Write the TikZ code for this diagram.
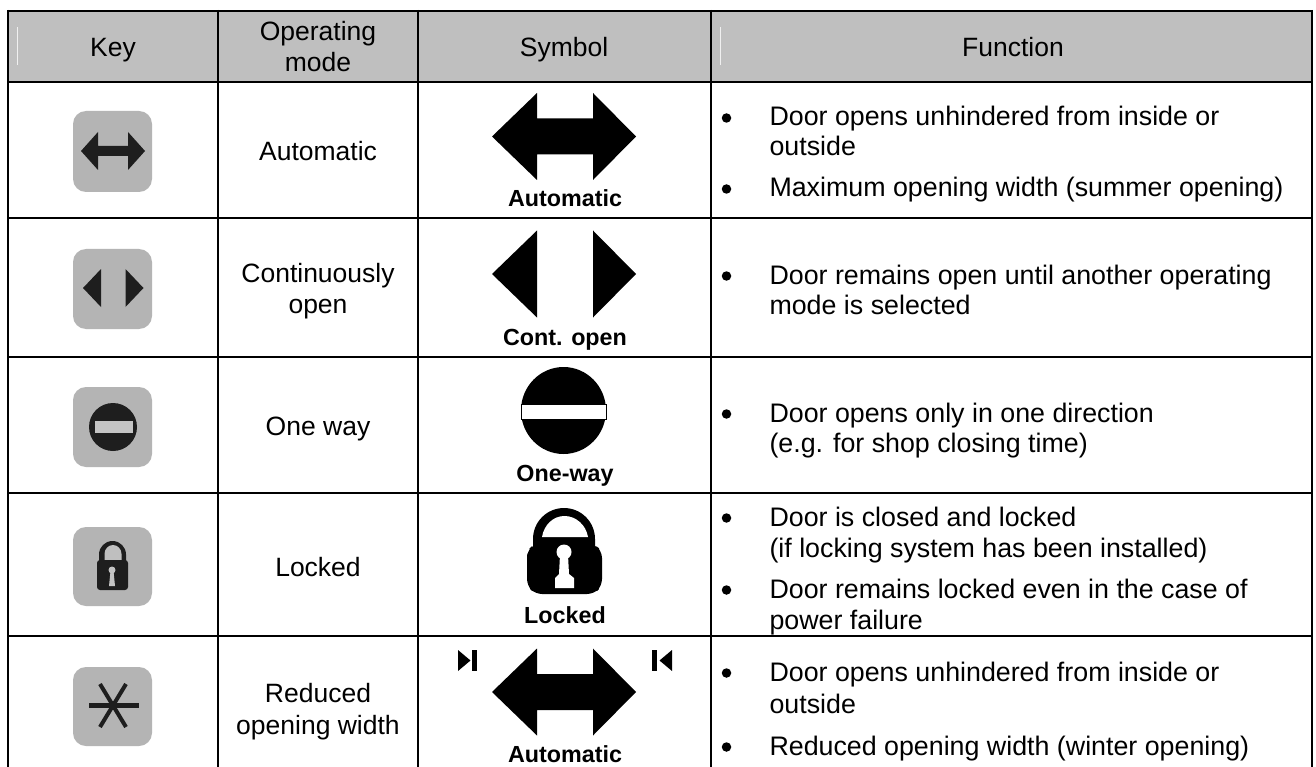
\documentclass[tikz,border=0pt]{standalone}
\usepackage{fontspec}
\setmainfont{Liberation Sans}
\definecolor{headgray}{HTML}{BFBFBF}
\definecolor{icongray}{HTML}{B4B4B4}
\definecolor{icondark}{HTML}{1E1E1E}
\definecolor{iconbar}{HTML}{C4C4C4}
\newcommand{\bigarrow}[1]{\fill[black] (492,#1) -- (537,#1-43.5) -- (537,#1-18) -- (593,#1-18) -- (593,#1-43.5) -- (636,#1) -- (593,#1+43.5) -- (593,#1+18) -- (537,#1+18) -- (537,#1+43.5) -- cycle;}
\tikzset{
  x=1pt,y=-1pt,
  every node/.style={inner sep=0pt,outer sep=0pt,font=\fontsize{26.5}{32}\selectfont},
  cell/.style={anchor=base},
  fn/.style={anchor=base west,font=\fontsize{26.8}{32}\selectfont},
  dot/.style={circle,fill=black,minimum size=9.5pt,anchor=center},
  symlabel/.style={anchor=base,font=\fontsize{23.3}{28}\bfseries\selectfont},
  keybox/.style={fill=icongray,rounded corners=13pt},
  rule/.style={line width=2pt,draw=black},
  faint/.style={line width=0.6pt,draw=white!88!gray},
}
\begin{document}
\begin{tikzpicture}
\useasboundingbox (0,0) rectangle (1316,767);
\fill[white] (0,0) rectangle (1316,767);
% header
\fill[headgray] (8,11) rectangle (1312,82);
\draw[faint] (17,27) -- (17,65);
\draw[faint] (720,27) -- (720,65);
% key boxes
\fill[keybox] (73,111) rectangle (152,192);
\fill[keybox] (73,249) rectangle (152,329);
\fill[keybox] (73,387) rectangle (152,467);
\fill[keybox] (73,527) rectangle (152,606);
\fill[keybox] (73,667) rectangle (152,746);
% key icons
\fill[icondark] (81,151) -- (98,132) -- (98,146) -- (128,146) -- (128,132) -- (145,151) -- (128,170) -- (128,156) -- (98,156) -- (98,170) -- cycle;
\fill[icondark] (83,288) -- (101,269) -- (101,307) -- cycle;
\fill[icondark] (143.5,288) -- (125.5,269) -- (125.5,307) -- cycle;
\fill[icondark] (113,427) circle (24);
\fill[iconbar] (95,421) rectangle (133,433);
\fill[icondark] (99,562) -- (99,554.5) arc[start angle=180,end angle=0,x radius=13.5pt,y radius=13.5pt] -- (126,562) -- cycle;
\fill[iconbar!70!icongray] (104.5,560) -- (104.5,554) arc[start angle=180,end angle=0,x radius=8.5pt,y radius=9pt] -- (121.5,560) -- cycle;
\fill[icondark,rounded corners=3pt] (97,560) rectangle (128,590);
\fill[iconbar] (112,570) circle (3.5);
\fill[iconbar] (110.5,571) -- (113.5,571) -- (115,586) -- (109,586) -- cycle;
\draw[icondark,line width=5pt] (89,705) -- (139,705);
\draw[icondark,line width=4pt] (100,684) -- (126,727);
\draw[icondark,line width=4pt] (126,684) -- (100,727);
% big symbols
\bigarrow{136.5}
\fill[black] (492,274) -- (537,230.5) -- (537,317.5) -- cycle;
\fill[black] (636,274) -- (593,230.5) -- (593,317.5) -- cycle;
\fill[black] (563.5,410.5) ellipse[x radius=42.5,y radius=43.5];
\filldraw[fill=white,draw=black,line width=1pt] (521,404) rectangle (606,419);
% lock
\fill[black] (533,548) -- (533,539) arc[start angle=180,end angle=0,x radius=31pt,y radius=31pt] -- (595,548) -- cycle;
\fill[black,rounded corners=7pt] (527,560) -- (527,551) -- (534,544) -- (594,544) -- (602,551) -- (602,586) -- (594,594) -- (535,594) -- (527,586) -- cycle;
\fill[white] (542,537) .. controls (544,525) and (553,516) .. (564.5,516) .. controls (576,516) and (586,525) .. (588,537) -- cycle;
\fill[white] (564,552) circle (7.5);
\fill[white] (560,555) -- (568,555) -- (569,574) -- (574,578) -- (574,588) -- (555,588) -- (555,578) -- (559,574) -- cycle;
\bigarrow{692}
\fill[black] (458,650) -- (470.5,660.5) -- (458,671) -- cycle;
\fill[black] (472,650) rectangle (477,671);
\fill[black] (672,650) -- (659.5,660.5) -- (672,671) -- cycle;
\fill[black] (652,650) rectangle (657,671);
% grid
\draw[rule] (8,11) -- (1312,11);
\foreach \yy in {82,218,357,493,636} \draw[rule] (8,\yy) -- (1312,\yy);
\foreach \xx in {8,218,418,711,1312} \draw[rule] (\xx,10) -- (\xx,767);
% header text
\node[cell] (hkey) at (113,57) {Key};
\node[cell] (hmode1) at (318,41) {Operating};
\node[cell] (hmode2) at (318,72) {mode};
\node[cell] (hsym) at (564,57) {Symbol};
\node[cell] (hfun) at (1013,57) {Function};
% mode text
\node[cell] (m1) at (318,161) {Automatic};
\node[cell] (m2a) at (318,282) {Continuously};
\node[cell] (m2b) at (318,313) {open};
\node[cell] (m3) at (318,435) {One way};
\node[cell] (m4) at (318,576) {Locked};
\node[cell] (m5a) at (318,702) {Reduced};
\node[cell] (m5b) at (318,734) {opening width};
% symbol labels
\node[symlabel] (s1) at (565,207) {Automatic};
\node[symlabel] (s2) at (565,345) {Cont. open};
\node[symlabel] (s3) at (565,481) {One-way};
\node[symlabel] (s4) at (565,623) {Locked};
\node[symlabel] (s5) at (565,762) {Automatic};
% function text
\foreach \nm/\yy in {d1/118,d2/189,d3/276,d4/414,d5/518,d6/590,d7/673,d8/747}
  \node[dot] (\nm) at (726.5,\yy) {};
\node[fn] (f1) at (769.5,126) {Door opens unhindered from inside or};
\node[fn] (f1b) at (769.5,156) {outside};
\node[fn] (f2) at (769.5,197) {Maximum opening width (summer opening)};
\node[fn] (f3) at (769.5,284) {Door remains open until another operating};
\node[fn] (f3b) at (769.5,314) {mode is selected};
\node[fn] (f4) at (769.5,422) {Door opens only in one direction};
\node[fn] (f4b) at (769.5,452) {(e.g. for shop closing time)};
\node[fn] (f5) at (769.5,526) {Door is closed and locked};
\node[fn] (f5b) at (769.5,557) {(if locking system has been installed)};
\node[fn] (f6) at (769.5,598) {Door remains locked even in the case of};
\node[fn] (f6b) at (769.5,629) {power failure};
\node[fn] (f7) at (769.5,681) {Door opens unhindered from inside or};
\node[fn] (f7b) at (769.5,713) {outside};
\node[fn] (f8) at (769.5,755) {Reduced opening width (winter opening)};
\end{tikzpicture}
\end{document}
